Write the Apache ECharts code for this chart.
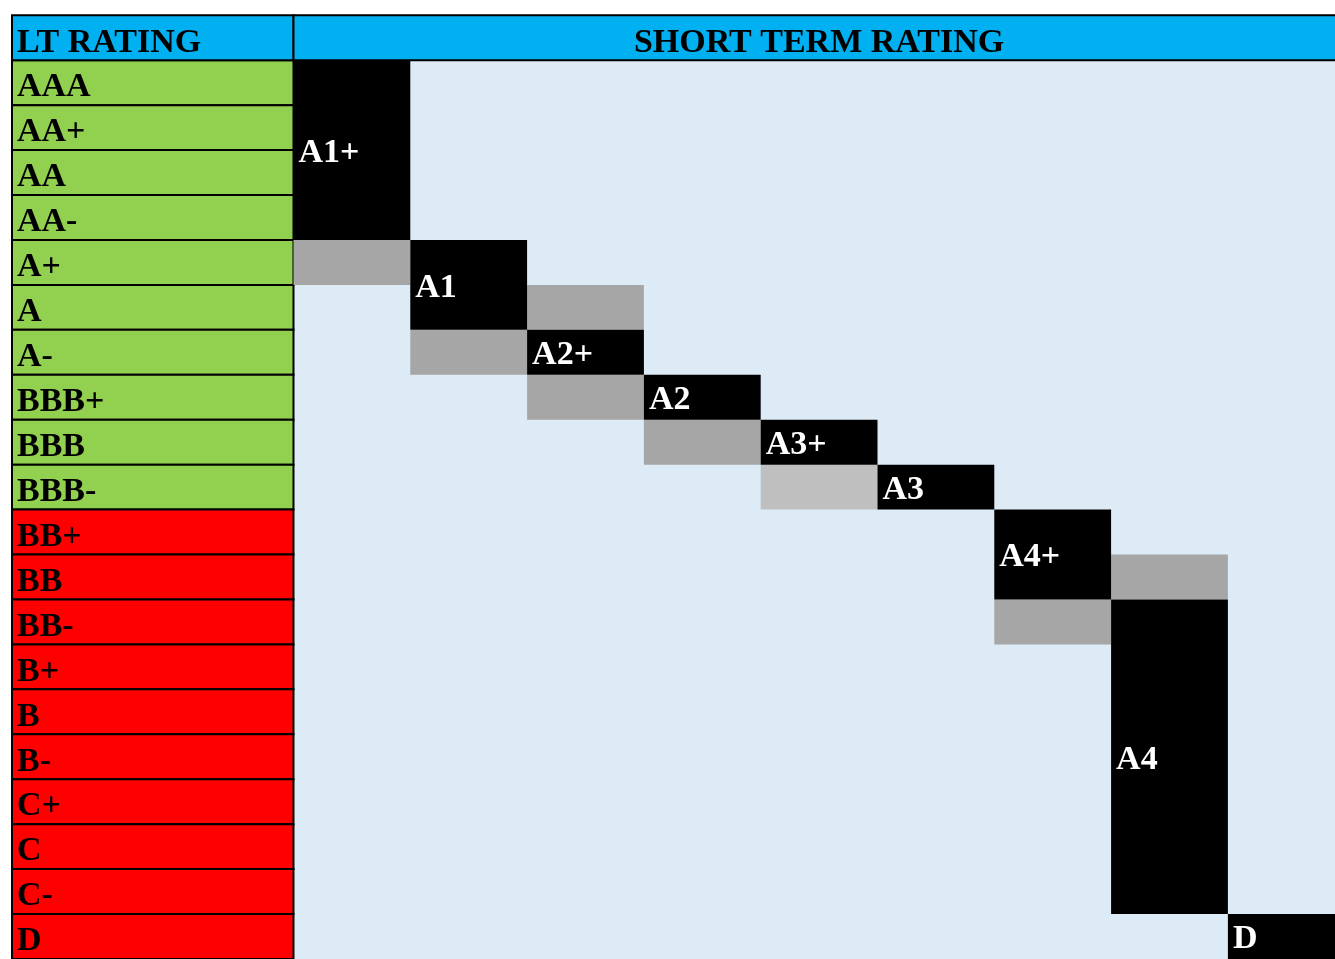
<!DOCTYPE html>
<html>
<head>
<meta charset="utf-8">
<title>LT rating vs short term rating</title>
<script src="https://cdn.jsdelivr.net/npm/echarts@6/dist/echarts.min.js"></script>
<style>
html, body { margin: 0; padding: 0; background: #fff; }
#main { width: 1335px; height: 959px; }
</style>
</head>
<body>
<div id="main"></div>
<script>
// long term ratings, top to bottom
const ltRatings = ['AAA', 'AA+', 'AA', 'AA-', 'A+', 'A', 'A-', 'BBB+', 'BBB', 'BBB-',
  'BB+', 'BB', 'BB-', 'B+', 'B', 'B-', 'C+', 'C', 'C-', 'D']
// last rating of the investment grade (green) block
const lastInvestmentGrade = 'BBB-'
// short term ratings and the LT range each one covers
const stRatings = ['A1+', 'A1', 'A2+', 'A2', 'A3+', 'A3', 'A4+', 'A4', 'D']
const stFrom = ['AAA', 'A+', 'A-', 'BBB+', 'BBB', 'BBB-', 'BB+', 'BB-', 'D']
const stTo = ['AA-', 'A', 'A-', 'BBB+', 'BBB', 'BBB-', 'BB', 'C-', 'D']
// overlap cells [ST rating, LT rating]
const overlapCells = [['A1+', 'A+'], ['A1', 'A-'], ['A2+', 'A'], ['A2+', 'BBB+'],
  ['A2', 'BBB'], ['A4', 'BB'], ['A4+', 'BB-']]
const overlapCellsLight = [['A3+', 'BBB-']]
const headers = ['LT RATING', 'SHORT TERM RATING']

// LT column width, in ST column units
const LT_SPAN = 2.41
// visible part of the ST area (the last column runs off the page)
const ST_VISIBLE = 8.917
const FONT = 'bold 34px "Liberation Serif", "Times New Roman", serif'
const lt = name => ltRatings.indexOf(name)
const st = name => stRatings.indexOf(name)

function cellRect (api, x0, y0, x1, y1) {
  const p0 = api.coord([x0, y0])
  const p1 = api.coord([x1, y1])
  return { x: p0[0], y: p0[1], width: p1[0] - p0[0], height: p1[1] - p0[1] }
}

function overlapSeries (name, cells, color) {
  return {
    name: name,
    type: 'custom',
    data: cells.map(c => [st(c[0]), lt(c[1])]),
    renderItem: function (params, api) {
      const s = api.value(0)
      const r = api.value(1)
      return {
        type: 'rect',
        shape: cellRect(api, s, r, s + 1, r + 1),
        style: { fill: color }
      }
    }
  }
}

const myChart = echarts.init(document.getElementById('main'))
const option = {
  animation: false,
  grid: {
    left: 12,
    right: 0,
    top: 15.3,
    height: 45.16 * (ltRatings.length + 1),
    show: true,
    backgroundColor: '#DDEBF7',
    borderWidth: 0
  },
  xAxis: { type: 'value', min: -LT_SPAN, max: ST_VISIBLE, show: false },
  yAxis: { type: 'value', inverse: true, min: -1, max: ltRatings.length, show: false },
  series: [
    {
      // LT rating column
      name: 'lt',
      type: 'custom',
      data: ltRatings.map((r, i) => [i, r]),
      renderItem: function (params, api) {
        const i = api.value(0)
        const rect = cellRect(api, -LT_SPAN, i, 0, i + 1)
        return {
          type: 'group',
          children: [
            {
              type: 'rect',
              shape: rect,
              style: {
                fill: i <= lt(lastInvestmentGrade) ? '#92D050' : '#FF0000',
                stroke: '#000',
                lineWidth: 2
              }
            },
            {
              type: 'text',
              style: {
                text: ltRatings[i],
                x: rect.x + 5,
                y: rect.y + rect.height / 2 + 5,
                align: 'left',
                verticalAlign: 'middle',
                font: FONT,
                fill: '#000'
              }
            }
          ]
        }
      }
    },
    overlapSeries('overlap', overlapCells, '#A6A6A6'),
    overlapSeries('overlapLight', overlapCellsLight, '#BFBFBF'),
    {
      // short term rating blocks
      name: 'st',
      type: 'custom',
      data: stRatings.map((r, i) => [i, lt(stFrom[i]), lt(stTo[i])]),
      renderItem: function (params, api) {
        const i = api.value(0)
        const rect = cellRect(api, i, api.value(1), i + 1, api.value(2) + 1)
        return {
          type: 'group',
          children: [
            { type: 'rect', shape: rect, style: { fill: '#000' } },
            {
              type: 'text',
              style: {
                text: stRatings[i],
                x: rect.x + 5,
                y: rect.y + rect.height / 2 + 3,
                align: 'left',
                verticalAlign: 'middle',
                font: FONT,
                fill: '#fff'
              }
            }
          ]
        }
      }
    },
    {
      // header row
      name: 'header',
      type: 'custom',
      data: headers.map((h, i) => [i]),
      renderItem: function (params, api) {
        const i = api.value(0)
        const rect = i === 0
          ? cellRect(api, -LT_SPAN, -1, 0, 0)
          : cellRect(api, 0, -1, stRatings.length, 0)
        return {
          type: 'group',
          children: [
            {
              type: 'rect',
              shape: rect,
              style: { fill: '#00B0F0', stroke: '#000', lineWidth: 2 }
            },
            {
              type: 'text',
              style: {
                text: headers[i],
                x: i === 0 ? rect.x + 5 : rect.x + rect.width / 2,
                y: rect.y + rect.height / 2 + 5,
                align: i === 0 ? 'left' : 'center',
                verticalAlign: 'middle',
                font: FONT,
                fill: '#000'
              }
            }
          ]
        }
      }
    }
  ]
}
option && myChart.setOption(option)
</script>
</body>
</html>
